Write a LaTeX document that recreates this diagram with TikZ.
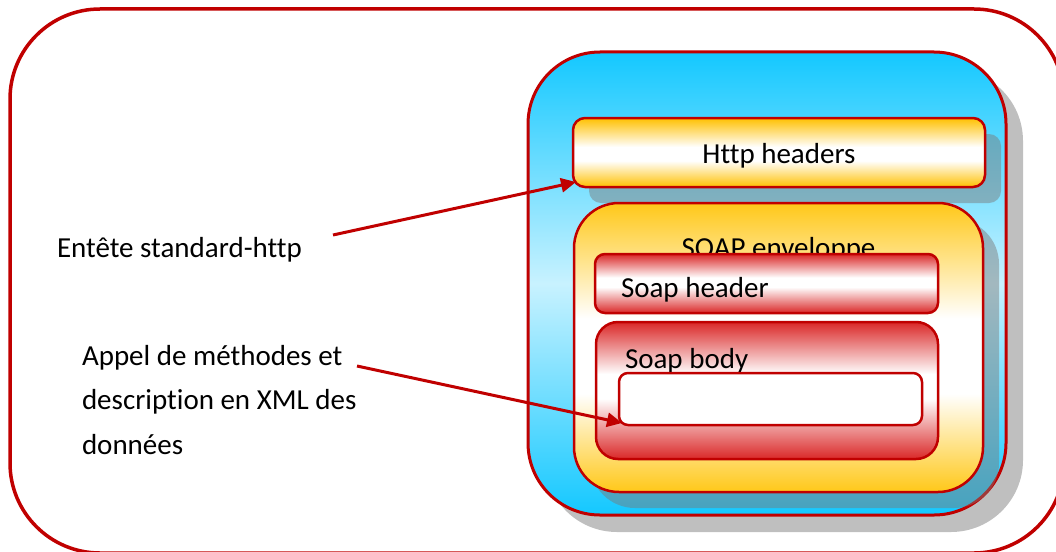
\documentclass[tikz,border=0pt]{standalone}
\usepackage{fontspec}
\setmainfont{Carlito}[Ligatures=NoCommon]
\usetikzlibrary{shadows,arrows.meta}

\definecolor{framered}{RGB}{192,0,0}
\definecolor{bcyan}{RGB}{20,200,255}
\definecolor{bpale}{RGB}{200,242,255}
\definecolor{horange}{RGB}{255,192,0}
\definecolor{eorange}{RGB}{255,200,25}
\definecolor{sred}{RGB}{218,40,40}
\definecolor{shadowgray}{RGB}{122,122,122}

% vertical fills: 25bp = bottom edge, 75bp = top edge of the shaded path
\pgfdeclareverticalshading{blueshade}{100bp}{color(0bp)=(bcyan); color(25bp)=(bcyan); color(50bp)=(bpale); color(75bp)=(bcyan); color(100bp)=(bcyan)}
\pgfdeclareverticalshading{httpshade}{100bp}{color(0bp)=(horange); color(25bp)=(horange); color(44bp)=(white); color(54bp)=(white); color(75bp)=(horange); color(100bp)=(horange)}
\pgfdeclareverticalshading{envshade}{100bp}{color(0bp)=(eorange); color(25bp)=(eorange); color(42bp)=(white); color(55bp)=(white); color(75bp)=(eorange); color(100bp)=(eorange)}
\pgfdeclareverticalshading{headshade}{100bp}{color(0bp)=(sred); color(25bp)=(sred); color(47bp)=(white); color(55bp)=(white); color(75bp)=(sred); color(100bp)=(sred)}
\pgfdeclareverticalshading{bodyshade}{100bp}{color(0bp)=(sred); color(25bp)=(sred); color(47bp)=(white); color(56bp)=(white); color(75bp)=(sred); color(100bp)=(sred)}

\tikzset{
  panel/.style={draw=framered, rounded corners=#1, inner sep=0pt, outer sep=0pt, shade},
  softshadow/.style={drop shadow={shadow xshift=#1, shadow yshift=-#1, fill=shadowgray, opacity=0.48}},
  lbl/.style={inner sep=0pt, outer sep=0pt, font=\fontsize{29}{44.5}\selectfont, text=black},
  pointer/.style={draw=framered, line width=3pt, -{Triangle[length=15pt,width=14pt]}},
}

\begin{document}
\begin{tikzpicture}[x=1pt,y=-1pt]
\clip (0,0) rectangle (1056,551);

% outer frame
\draw[framered, line width=3.5pt, rounded corners=90pt] (10,9) rectangle (1064,553);

% HTTP message
\node[panel=72pt, line width=3pt, shading=blueshade, softshadow=17pt,
      minimum width=478pt, minimum height=463pt] (msg) at (767,283.5) {};

\node[panel=12pt, line width=2.5pt, shading=httpshade, softshadow=16pt,
      minimum width=412pt, minimum height=69pt] (http) at (779,152.5) {};
\node[lbl, anchor=base] (httptext) at (779,163) {Http headers};

% SOAP envelope
\node[panel=45pt, line width=2.5pt, shading=envshade, softshadow=16pt,
      minimum width=409pt, minimum height=289pt] (env) at (778.5,347.5) {};
\node[lbl, anchor=base] (envtext) at (778.5,257) {SOAP enveloppe};

\node[panel=10pt, line width=2.5pt, shading=headshade,
      minimum width=343pt, minimum height=59pt] (head) at (766.5,283.5) {};
\node[lbl, anchor=base west] (headtext) at (621,297) {Soap header};

\node[panel=22pt, line width=2.5pt, shading=bodyshade,
      minimum width=342pt, minimum height=137pt] (body) at (767,390.5) {};
\node[lbl, anchor=base west] (bodytext) at (625,368) {Soap body};

\node[draw=framered, fill=white, line width=2.5pt, rounded corners=9pt, inner sep=0pt,
      outer sep=0pt, minimum width=303pt, minimum height=52pt] (data) at (770.5,399) {};

% captions and pointers (base of a multi-line node is its last line)
\node[lbl, anchor=base west] (ent) at (57,257) {Entête standard-http};
\node[lbl, anchor=base west, align=left] (appel) at (82,454)
  {Appel de méthodes et\\description en XML des\\données};

\coordinate (s1) at (333,235);
\coordinate (s2) at (357,366);
\draw[pointer] (s1) -- ([shift={(3pt,5pt)}]http.south west);
\draw[pointer] (s2) -- ([shift={(3pt,2pt)}]data.south west);
\end{tikzpicture}
\end{document}
